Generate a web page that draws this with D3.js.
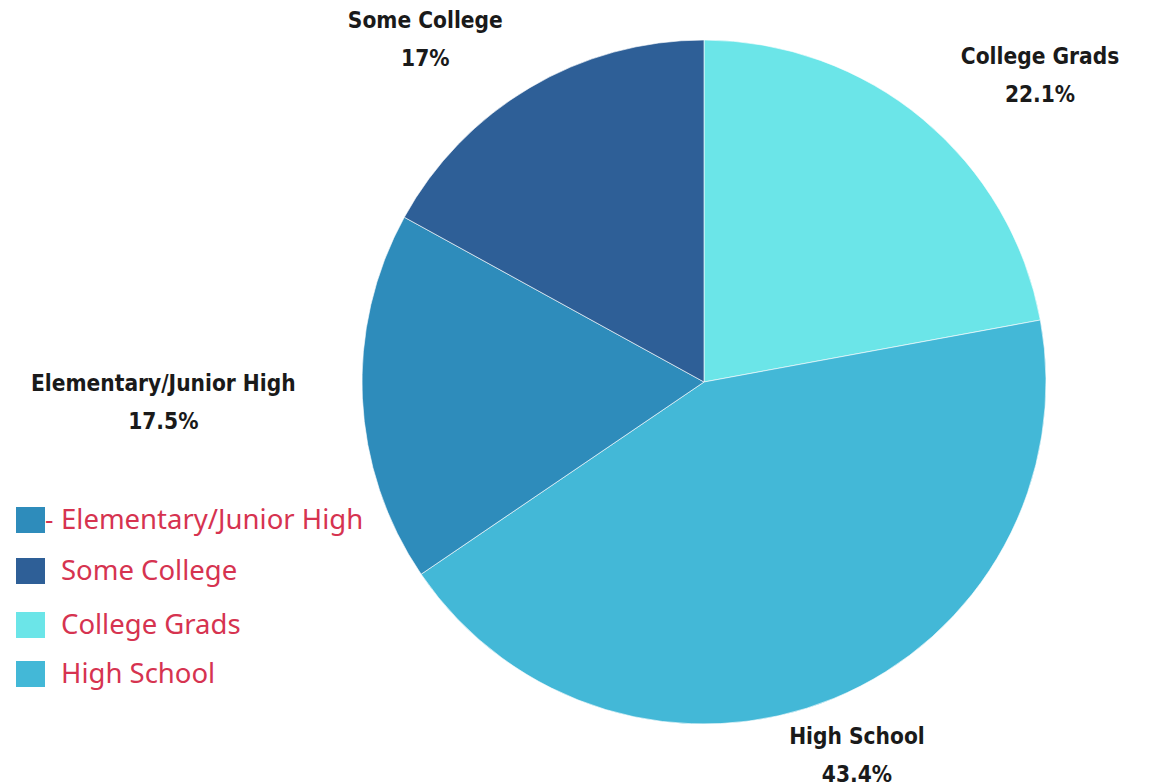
<!DOCTYPE html>
<html>
<head>
<meta charset="utf-8">
<script src="https://cdn.jsdelivr.net/npm/d3@7/dist/d3.min.js"></script>
<style>
  html, body { margin: 0; padding: 0; background: #ffffff; }
  svg { display: block; }
  .slice-label { font-family: "Liberation Sans Narrow", "DejaVu Sans Condensed", "Roboto", sans-serif; font-weight: 700; fill: #1a1a1a; }
  .legend-text { font-family: "Noto Sans", "Open Sans", sans-serif; fill: #d63350; }
</style>
</head>
<body>
<svg id="chart" width="1153" height="784"></svg>
<script>
// Share of respondents by education level (percent)
const categories = ["College Grads", "High School", "Elementary/Junior High", "Some College"];
const values = [22.1, 43.4, 17.5, 17];
const valueLabels = ["22.1%", "43.4%", "17.5%", "17%"];
const colors = ["#6be5e8", "#43b8d7", "#2e8cbb", "#2e5f97"];
const legendOrder = ["Elementary/Junior High", "Some College", "College Grads", "High School"];

const svg = d3.select("#chart");
const cx = 704, cy = 382, radius = 342;

const color = d3.scaleOrdinal().domain(categories).range(colors);

const pie = d3.pie().sort(null).value(d => d.value);
const data = categories.map((c, i) => ({ name: c, value: values[i], label: valueLabels[i] }));
const arcs = pie(data);

const arc = d3.arc().innerRadius(0).outerRadius(radius);

const g = svg.append("g").attr("transform", `translate(${cx},${cy})`);

g.selectAll("path.slice")
  .data(arcs)
  .join("path")
  .attr("class", "slice")
  .attr("d", arc)
  .attr("fill", d => color(d.data.name))
  .attr("stroke", "rgba(255,255,255,0.6)")
  .attr("stroke-width", 1);

// Labels sit outside the rim along each slice's mid-angle, nudged sideways
const labelArc = d3.arc().innerRadius(radius * 1.17).outerRadius(radius * 1.17);
const labelOffsets = {
  "College Grads": [80, 0],
  "High School": [1, 2],
  "Elementary/Junior High": [-141, 0],
  "Some College": [-75, 0]
};

const labels = g.selectAll("g.lbl")
  .data(arcs)
  .join("g")
  .attr("class", "lbl")
  .attr("transform", d => {
    const [x, y] = labelArc.centroid(d);
    const o = labelOffsets[d.data.name];
    return `translate(${x + o[0]},${y + o[1]})`;
  });

labels.append("text")
  .attr("class", "slice-label")
  .attr("text-anchor", "middle")
  .attr("font-size", 22.5)
  .attr("y", -10)
  .text(d => d.data.name);

labels.append("text")
  .attr("class", "slice-label")
  .attr("text-anchor", "middle")
  .attr("font-size", 22.5)
  .attr("y", 28)
  .text(d => d.data.label);

// Legend
const legendY = [520, 571, 625, 674];
const legend = svg.append("g");

legend.append("text")
  .attr("class", "legend-text")
  .attr("x", 45)
  .attr("y", 529)
  .attr("font-size", 26)
  .text("-");

const items = legend.selectAll("g.item")
  .data(legendOrder)
  .join("g")
  .attr("class", "item")
  .attr("transform", (d, i) => `translate(0,${legendY[i]})`);

items.append("rect")
  .attr("x", 16)
  .attr("y", -13)
  .attr("width", 29)
  .attr("height", 26)
  .attr("fill", d => color(d));

items.append("text")
  .attr("class", "legend-text")
  .attr("x", 61)
  .attr("y", 9)
  .attr("font-size", 27.5)
  .text(d => d);
</script>
</body>
</html>
